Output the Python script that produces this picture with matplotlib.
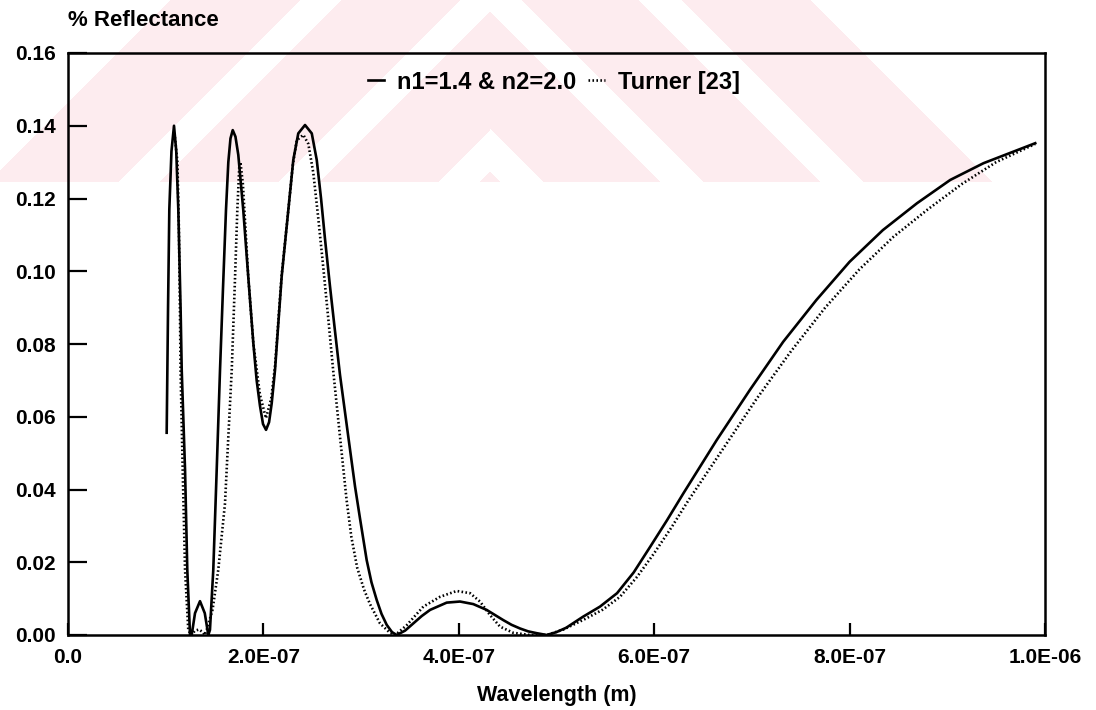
import numpy as np
import matplotlib
matplotlib.use("Agg")
import matplotlib.pyplot as plt

plt.rcParams['font.family'] = ['Liberation Sans', 'DejaVu Sans']
plt.rcParams['font.weight'] = 'bold'

# ---- data (wavelength in units of 1e-7 m, reflectance) ----
wl_model = [1.010, 1.024, 1.037, 1.059, 1.085, 1.108, 1.129, 1.153, 1.164, 1.198,
            1.221, 1.249, 1.266, 1.300, 1.351, 1.400, 1.436, 1.453, 1.487, 1.522,
            1.556, 1.586, 1.617, 1.641, 1.663, 1.686, 1.714, 1.743, 1.794, 1.845,
            1.897, 1.931, 1.965, 1.996, 2.027, 2.058, 2.085, 2.119, 2.187, 2.255,
            2.306, 2.357, 2.426, 2.495, 2.546, 2.590, 2.630, 2.681, 2.733, 2.784,
            2.869, 2.938, 2.989, 3.057, 3.106, 3.160, 3.209, 3.262, 3.316, 3.364,
            3.450, 3.535, 3.620, 3.706, 3.876, 4.012, 4.148, 4.285, 4.370, 4.455,
            4.540, 4.626, 4.710, 4.797, 4.900, 5.000, 5.100, 5.270, 5.445, 5.620,
            5.790, 5.960, 6.130, 6.300, 6.640, 6.980, 7.320, 7.660, 8.000, 8.340,
            8.690, 9.030, 9.370, 9.900]
r_model = [0.0556, 0.0900, 0.1170, 0.1330, 0.1400, 0.1330, 0.1170, 0.0890, 0.0728, 0.0454,
           0.0179, 0.0000, 0.0000, 0.0060, 0.0093, 0.0060, 0.0000, 0.0014, 0.0179, 0.0454,
           0.0729, 0.0950, 0.1168, 0.1300, 0.1365, 0.1388, 0.1370, 0.1320, 0.1168, 0.0985,
           0.0802, 0.0700, 0.0630, 0.0580, 0.0564, 0.0585, 0.0637, 0.0729, 0.0985, 0.1168,
           0.1306, 0.1379, 0.1402, 0.1379, 0.1306, 0.1200, 0.1090, 0.0960, 0.0835, 0.0715,
           0.0545, 0.0408, 0.0320, 0.0206, 0.0145, 0.0096, 0.0058, 0.0028, 0.0008, 0.0000,
           0.0012, 0.0032, 0.0052, 0.0069, 0.0089, 0.0092, 0.0085, 0.0069, 0.0055, 0.0041,
           0.0028, 0.0018, 0.0010, 0.0005, 0.0000, 0.0008, 0.0020, 0.0050, 0.0078, 0.0115,
           0.0172, 0.0243, 0.0315, 0.0390, 0.0536, 0.0674, 0.0806, 0.0921, 0.1026, 0.1113,
           0.1187, 0.1251, 0.1297, 0.1352]

wl_turner = [1.090, 1.120, 1.135, 1.146, 1.152, 1.174, 1.198, 1.231, 1.260, 1.300,
             1.340, 1.380, 1.400, 1.420, 1.480, 1.538, 1.607, 1.641, 1.676, 1.710,
             1.733, 1.753, 1.765, 1.790, 1.845, 1.897, 1.965, 2.026, 2.080, 2.119,
             2.187, 2.255, 2.300, 2.341, 2.409, 2.460, 2.511, 2.562, 2.613, 2.664,
             2.715, 2.784, 2.852, 2.900, 2.960, 3.030, 3.091, 3.193, 3.296, 3.350,
             3.467, 3.550, 3.637, 3.808, 3.978, 4.115, 4.217, 4.319, 4.422, 4.558,
             4.729, 4.900, 5.070, 5.300, 5.475, 5.650, 5.825, 6.000, 6.175, 6.350,
             6.700, 7.050, 7.400, 7.750, 8.100, 8.450, 8.800, 9.150, 9.500, 9.900]
r_turner = [0.1380, 0.1300, 0.1120, 0.0890, 0.0729, 0.0454, 0.0179, 0.0014, 0.0000, 0.0012,
            0.0015, 0.0008, 0.0000, 0.0014, 0.0070, 0.0179, 0.0362, 0.0545, 0.0729, 0.0985,
            0.1168, 0.1287, 0.1300, 0.1240, 0.0985, 0.0802, 0.0660, 0.0596, 0.0650, 0.0740,
            0.0990, 0.1168, 0.1290, 0.1360, 0.1375, 0.1350, 0.1270, 0.1145, 0.1010, 0.0870,
            0.0725, 0.0545, 0.0370, 0.0270, 0.0185, 0.0125, 0.0085, 0.0032, 0.0006, 0.0000,
            0.0027, 0.0052, 0.0078, 0.0105, 0.0121, 0.0115, 0.0092, 0.0055, 0.0023, 0.0006,
            0.0000, 0.0000, 0.0015, 0.0045, 0.0070, 0.0105, 0.0160, 0.0225, 0.0295, 0.0370,
            0.0510, 0.0650, 0.0780, 0.0900, 0.1005, 0.1095, 0.1170, 0.1240, 0.1300, 0.1350]

labels = ["n1=1.4 & n2=2.0", "Turner [23]"]
x_ticks = [0.0, 2e-7, 4e-7, 6e-7, 8e-7, 1e-6]
x_tick_labels = ["0.0", "2.0E-07", "4.0E-07", "6.0E-07", "8.0E-07", "1.0E-06"]
y_ticks = [0.00, 0.02, 0.04, 0.06, 0.08, 0.10, 0.12, 0.14, 0.16]
y_tick_labels = ["0.00", "0.02", "0.04", "0.06", "0.08", "0.10", "0.12", "0.14", "0.16"]

W, H = 1096, 710
fig = plt.figure(figsize=(W / 100, H / 100), dpi=100)
fig.patch.set_facecolor('white')

# ---- faint pink chevron watermark (decoration) ----
wh = 182
yy, xx = np.mgrid[0:wh, 0:W]
xc = 490
s = xx + yy
d = xx - yy
left = xx < xc
white = np.zeros((wh, W), dtype=bool)
white |= left & (s < 170)
white |= (~left) & (d > 2 * xc - 170)
for c in (320, 480, 640):
    white |= left & (np.abs(s - c) <= 20)
    white |= (~left) & (np.abs(d - (2 * xc - c)) <= 21)
img = np.ones((wh, W, 4))
img[..., 0] = 253 / 255
img[..., 1] = 236 / 255
img[..., 2] = 239 / 255
img[..., 3] = (~white).astype(float)
fig.figimage(img, xo=0, yo=H - wh, origin='upper', zorder=0)

ax = fig.add_axes([68 / W, 1 - 635 / H, (1045 - 68) / W, (635 - 53) / H])
ax.set_facecolor('none')
ax.set_zorder(1)

ax.plot(np.array(wl_model) * 1e-7, r_model, color='black', lw=1.9,
        solid_joinstyle='round', label=labels[0])
ax.plot(np.array(wl_turner) * 1e-7, r_turner, color='black', lw=1.9,
        linestyle=(0, (0.6, 0.9)), dash_capstyle='butt', label=labels[1])

ax.set_xlim(0, 1e-6)
ax.set_ylim(0, 0.16)
ax.set_xticks(x_ticks)
ax.set_xticklabels(x_tick_labels)
ax.set_yticks(y_ticks)
ax.set_yticklabels(y_tick_labels)

ax.tick_params(axis='x', direction='in', length=9, width=1.6, pad=9.5, labelsize=15)
ax.tick_params(axis='y', direction='in', length=14, width=1.6, pad=9, labelsize=15)
for lab in ax.get_xticklabels() + ax.get_yticklabels():
    lab.set_fontweight('bold')
for sp in ax.spines.values():
    sp.set_linewidth(1.8)

ax.set_xlabel("Wavelength (m)", fontsize=15.5, fontweight='bold', labelpad=13)
fig.text(68 / W, 1 - 20 / H, "% Reflectance", fontsize=16, fontweight='bold',
         ha='left', va='center')

leg = ax.legend(loc='center', bbox_to_anchor=(0.497, 0.95), ncol=2, frameon=False,
                handlelength=0.7, handletextpad=0.55, columnspacing=0.5,
                prop={'size': 17, 'weight': 'bold'})

fig.savefig("out.png", dpi=100)
